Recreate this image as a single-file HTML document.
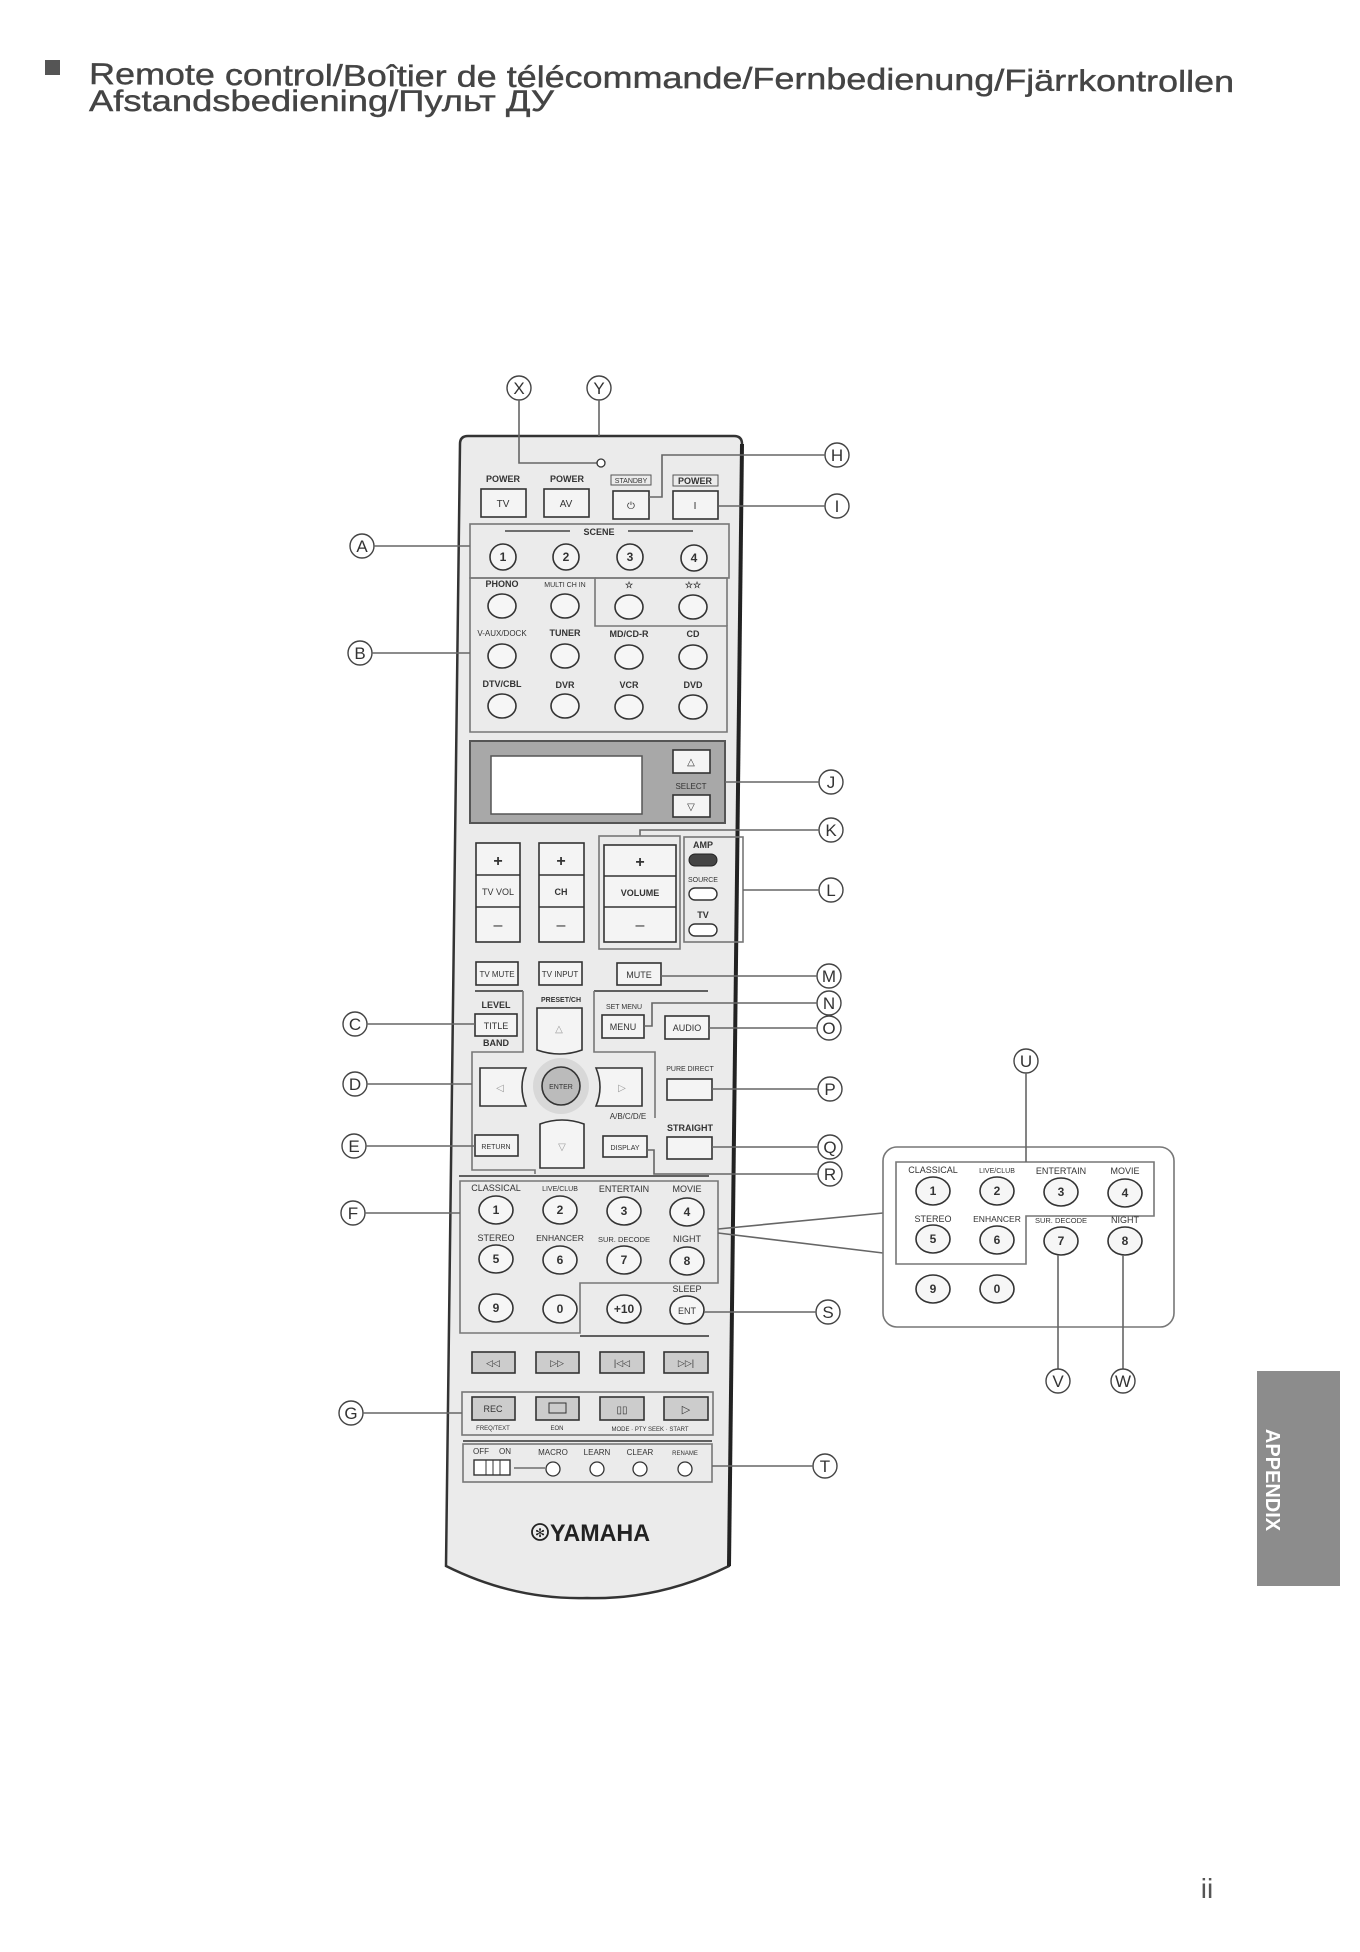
<!DOCTYPE html>
<html><head><meta charset="utf-8"><style>
html,body{margin:0;padding:0;background:#fff}
svg{display:block}
text{font-family:"Liberation Sans",Arial,sans-serif;fill:#333}
.l{stroke:#666;stroke-width:1.6;fill:none}
.c{fill:#fff;stroke:#444;stroke-width:1.4}
.b{fill:#f4f4f4;stroke:#333;stroke-width:1.6}
.bx{fill:none;stroke:#777;stroke-width:1.6}
.lt{font-size:17px;text-anchor:middle}
.s{font-size:9px;text-anchor:middle;font-weight:bold}
.t{font-size:10px;text-anchor:middle}
.n{font-size:12px;text-anchor:middle;font-weight:bold}
</style></head><body>
<svg width="1360" height="1952" viewBox="0 0 1360 1952" xmlns="http://www.w3.org/2000/svg">
<!-- title -->
<rect x="45" y="60" width="15" height="15" fill="#555"/>
<g transform="rotate(0.4 89 84)">
<text x="89" y="84" font-size="30" textLength="1145" lengthAdjust="spacingAndGlyphs" style="fill:#444;stroke:#444;stroke-width:0.4">Remote control/Boîtier de télécommande/Fernbedienung/Fjärrkontrollen</text>
</g>
<text x="89" y="111" font-size="30" textLength="465" lengthAdjust="spacingAndGlyphs" style="fill:#444;stroke:#444;stroke-width:0.4">Afstandsbediening/Пульт ДУ</text>

<!-- remote body -->
<path d="M468,436 L734,436 Q742,436 742,444 L729,1566 Q660,1600 587,1598 Q514,1600 446,1566 L460,444 Q460,436 468,436 Z" fill="#ebebeb" stroke="#333" stroke-width="2.5"/>
<path d="M742,444 L729,1566" stroke="#222" stroke-width="4" fill="none"/>

<!-- X Y -->
<circle class="c" cx="519" cy="388" r="12"/><text class="lt" x="519" y="394">X</text>
<circle class="c" cx="599" cy="388" r="12"/><text class="lt" x="599" y="394">Y</text>
<path class="l" d="M519,400 V463 H597"/><circle cx="601" cy="463" r="4" fill="#fff" stroke="#333" stroke-width="1.3"/>
<path class="l" d="M599,400 V436"/>

<!-- power row -->
<text class="s" x="503" y="482">POWER</text><text class="s" x="567" y="482">POWER</text>
<rect x="611" y="475" width="40" height="10" fill="none" stroke="#555"/><text x="631" y="483" font-size="7" text-anchor="middle">STANDBY</text>
<rect x="673" y="475" width="45" height="11" fill="none" stroke="#555"/><text class="s" x="695" y="484">POWER</text>
<rect class="b" x="481" y="489" width="45" height="28"/><text class="t" x="503" y="507">TV</text>
<rect class="b" x="544" y="489" width="45" height="28"/><text class="t" x="566" y="507">AV</text>
<rect class="b" x="613" y="491" width="36" height="28"/><text class="t" x="631" y="509">⏻</text>
<rect class="b" x="673" y="491" width="45" height="28"/><text class="t" x="695" y="509">I</text>
<circle class="c" cx="837" cy="455" r="12"/><text class="lt" x="837" y="461">H</text>
<path class="l" d="M825,455 H662 V497 H649"/>
<circle class="c" cx="837" cy="506" r="12"/><text class="lt" x="837" y="512">I</text>
<path class="l" d="M825,506 H719"/>

<!-- scene -->
<rect class="bx" x="470" y="524" width="259" height="54"/>
<path d="M505,531 H570 M628,531 H693" stroke="#444" stroke-width="1.5"/>
<text class="s" x="599" y="535">SCENE</text>
<circle class="b" cx="503" cy="557" r="13"/><text class="n" x="503" y="561">1</text>
<circle class="b" cx="566" cy="557" r="13"/><text class="n" x="566" y="561">2</text>
<circle class="b" cx="630" cy="557" r="13"/><text class="n" x="630" y="561">3</text>
<circle class="b" cx="694" cy="558" r="13"/><text class="n" x="694" y="562">4</text>
<circle class="c" cx="362" cy="546" r="12"/><text class="lt" x="362" y="552">A</text>
<path class="l" d="M374,546 H470"/>

<!-- sources -->
<path class="bx" d="M470,578 H595 V626 H727 V732 H470 Z"/>
<path class="bx" d="M595,578 H727 V626"/>
<circle class="c" cx="360" cy="653" r="12"/><text class="lt" x="360" y="659">B</text>
<path class="l" d="M372,653 H470"/>
<text class="s" x="502" y="587">PHONO</text><text x="565" y="587" font-size="7" text-anchor="middle">MULTI CH IN</text><text class="s" x="629" y="588">☆</text><text class="s" x="693" y="588">☆☆</text>
<text x="502" y="636" font-size="8" text-anchor="middle">V-AUX/DOCK</text><text class="s" x="565" y="636">TUNER</text><text class="s" x="629" y="637">MD/CD-R</text><text class="s" x="693" y="637">CD</text>
<text class="s" x="502" y="687">DTV/CBL</text><text class="s" x="565" y="688">DVR</text><text class="s" x="629" y="688">VCR</text><text class="s" x="693" y="688">DVD</text>
<g fill="#f6f6f6" stroke="#333" stroke-width="1.6">
<ellipse cx="502" cy="606" rx="14" ry="12"/><ellipse cx="565" cy="606" rx="14" ry="12"/><ellipse cx="629" cy="607" rx="14" ry="12"/><ellipse cx="693" cy="607" rx="14" ry="12"/>
<ellipse cx="502" cy="656" rx="14" ry="12"/><ellipse cx="565" cy="656" rx="14" ry="12"/><ellipse cx="629" cy="657" rx="14" ry="12"/><ellipse cx="693" cy="657" rx="14" ry="12"/>
<ellipse cx="502" cy="706" rx="14" ry="12"/><ellipse cx="565" cy="706" rx="14" ry="12"/><ellipse cx="629" cy="707" rx="14" ry="12"/><ellipse cx="693" cy="707" rx="14" ry="12"/>
</g>

<!-- display -->
<rect x="470" y="741" width="255" height="82" fill="#a8a8a8" stroke="#555" stroke-width="2"/>
<rect x="491" y="756" width="151" height="58" fill="#fff" stroke="#555" stroke-width="1.5"/>
<rect class="b" x="673" y="750" width="37" height="23"/><text class="t" x="691" y="765">△</text>
<text x="691" y="789" font-size="8" text-anchor="middle">SELECT</text>
<rect class="b" x="673" y="795" width="37" height="22"/><text class="t" x="691" y="810">▽</text>
<circle class="c" cx="831" cy="782" r="12"/><text class="lt" x="831" y="788">J</text>
<path class="l" d="M819,782 H725"/>

<!-- volume area -->
<circle class="c" cx="831" cy="830" r="12"/><text class="lt" x="831" y="836">K</text>
<path class="l" d="M819,830 H640 V836"/>
<rect class="bx" x="599" y="836" width="81" height="113"/>
<rect class="b" x="604" y="845" width="72" height="97"/>
<path d="M604,876 H676 M604,907 H676" stroke="#333" stroke-width="1.4"/>
<text x="640" y="867" font-size="16" text-anchor="middle" font-weight="bold">+</text>
<text class="s" x="640" y="896" font-size="11">VOLUME</text>
<text x="640" y="930" font-size="16" text-anchor="middle">–</text>
<rect class="b" x="476" y="843" width="44" height="99"/>
<path d="M476,875 H520 M476,907 H520" stroke="#333" stroke-width="1.4"/>
<text x="498" y="866" font-size="16" text-anchor="middle" font-weight="bold">+</text><text x="498" y="895" font-size="9" text-anchor="middle">TV VOL</text><text x="498" y="930" font-size="16" text-anchor="middle">–</text>
<rect class="b" x="539" y="843" width="45" height="99"/>
<path d="M539,875 H584 M539,907 H584" stroke="#333" stroke-width="1.4"/>
<text x="561" y="866" font-size="16" text-anchor="middle" font-weight="bold">+</text><text class="s" x="561" y="895">CH</text><text x="561" y="930" font-size="16" text-anchor="middle">–</text>
<rect class="bx" x="684" y="837" width="59" height="105"/>
<text class="s" x="703" y="848">AMP</text><rect x="689" y="854" width="28" height="12" rx="6" fill="#444" stroke="#222"/>
<text x="703" y="882" font-size="7" text-anchor="middle">SOURCE</text><rect x="689" y="888" width="28" height="12" rx="6" fill="#fff" stroke="#333" stroke-width="1.4"/>
<text class="s" x="703" y="918">TV</text><rect x="689" y="924" width="28" height="12" rx="6" fill="#fff" stroke="#333" stroke-width="1.4"/>
<circle class="c" cx="831" cy="890" r="12"/><text class="lt" x="831" y="896">L</text>
<path class="l" d="M819,890 H743"/>

<!-- mute row -->
<rect class="b" x="476" y="962" width="42" height="23"/><text x="497" y="977" font-size="8" text-anchor="middle">TV MUTE</text>
<rect class="b" x="539" y="962" width="43" height="23"/><text x="560" y="977" font-size="8" text-anchor="middle">TV INPUT</text>
<rect class="b" x="617" y="963" width="44" height="22"/><text x="639" y="978" font-size="9" text-anchor="middle">MUTE</text>
<circle class="c" cx="829" cy="976" r="12"/><text class="lt" x="829" y="982">M</text>
<path class="l" d="M817,976 H661"/>
<path d="M475,991 H523 M594,991 H708" stroke="#333" stroke-width="1.5"/>

<!-- nav -->
<text class="s" x="496" y="1008">LEVEL</text>
<rect class="b" x="475" y="1014" width="42" height="22"/><text x="496" y="1029" font-size="9" text-anchor="middle">TITLE</text>
<text class="s" x="496" y="1046">BAND</text>
<circle class="c" cx="355" cy="1024" r="12"/><text class="lt" x="355" y="1030">C</text>
<path class="l" d="M367,1024 H475"/>
<text x="561" y="1002" font-size="7" text-anchor="middle" font-weight="bold">PRESET/CH</text>
<path class="bx" d="M523,991 V1052 H472 V1170 H535 V1174 M594,991 V1052 H655 V1118"/>
<path class="b" d="M537,1008 H582 V1050 Q560,1058 537,1050 Z"/><text class="t" x="559" y="1032" style="fill:#999">△</text>
<text x="624" y="1009" font-size="7" text-anchor="middle">SET MENU</text>
<rect class="b" x="602" y="1015" width="42" height="23"/><text x="623" y="1030" font-size="9" text-anchor="middle">MENU</text>
<rect class="b" x="665" y="1016" width="44" height="23"/><text x="687" y="1031" font-size="9" text-anchor="middle">AUDIO</text>
<circle class="c" cx="829" cy="1003" r="12"/><text class="lt" x="829" y="1009">N</text>
<path class="l" d="M817,1003 H652 V1026 H644"/>
<circle class="c" cx="829" cy="1028" r="12"/><text class="lt" x="829" y="1034">O</text>
<path class="l" d="M817,1028 H709"/>
<path class="b" d="M480,1068 H526 Q518,1087 526,1106 H480 Z"/><text class="t" x="500" y="1091" style="fill:#999">◁</text>
<path class="b" d="M596,1068 H642 V1106 H596 Q604,1087 596,1068 Z"/><text class="t" x="622" y="1091" style="fill:#999">▷</text>
<circle cx="561" cy="1086" r="28" fill="#d8d8d8" stroke="none"/>
<circle cx="561" cy="1086" r="19" fill="#bbb" stroke="#333" stroke-width="1.6"/><text x="561" y="1089" font-size="7" text-anchor="middle">ENTER</text>
<path class="b" d="M540,1124 Q562,1116 584,1124 V1168 H540 Z"/><text class="t" x="562" y="1150" style="fill:#999">▽</text>
<text x="628" y="1119" font-size="8" text-anchor="middle">A/B/C/D/E</text>
<circle class="c" cx="355" cy="1084" r="12"/><text class="lt" x="355" y="1090">D</text>
<path class="l" d="M367,1084 H472"/>
<text x="690" y="1071" font-size="7" text-anchor="middle">PURE DIRECT</text>
<rect class="b" x="667" y="1079" width="45" height="21"/>
<circle class="c" cx="830" cy="1089" r="12"/><text class="lt" x="830" y="1095">P</text>
<path class="l" d="M818,1089 H712"/>
<text class="s" x="690" y="1131">STRAIGHT</text>
<rect class="b" x="667" y="1137" width="45" height="22"/>
<circle class="c" cx="830" cy="1147" r="12"/><text class="lt" x="830" y="1153">Q</text>
<path class="l" d="M818,1147 H712"/>
<rect class="b" x="475" y="1135" width="43" height="21"/><text x="496" y="1149" font-size="7" text-anchor="middle">RETURN</text>
<circle class="c" cx="354" cy="1146" r="12"/><text class="lt" x="354" y="1152">E</text>
<path class="l" d="M366,1146 H475"/>
<rect class="b" x="603" y="1136" width="44" height="21"/><text x="625" y="1150" font-size="7" text-anchor="middle">DISPLAY</text>
<circle class="c" cx="830" cy="1174" r="12"/><text class="lt" x="830" y="1180">R</text>
<path class="l" d="M818,1174 H654 V1150 H647"/>
<path d="M459,1176 H709" stroke="#333" stroke-width="1.5"/>

<!-- F numeric -->
<path class="bx" d="M460,1181 H718 V1283 H580 V1333 H460 Z"/>
<circle class="c" cx="353" cy="1213" r="12"/><text class="lt" x="353" y="1219">F</text>
<path class="l" d="M365,1213 H460"/>
<text x="496" y="1191" font-size="9" text-anchor="middle">CLASSICAL</text><text x="560" y="1191" font-size="7" text-anchor="middle">LIVE/CLUB</text><text x="624" y="1192" font-size="9" text-anchor="middle">ENTERTAIN</text><text x="687" y="1192" font-size="9" text-anchor="middle">MOVIE</text>
<text x="496" y="1241" font-size="9" text-anchor="middle">STEREO</text><text x="560" y="1241" font-size="8.5" text-anchor="middle">ENHANCER</text><text x="624" y="1242" font-size="7.5" text-anchor="middle">SUR. DECODE</text><text x="687" y="1242" font-size="9" text-anchor="middle">NIGHT</text>
<text x="687" y="1292" font-size="9" text-anchor="middle">SLEEP</text>
<g fill="#f6f6f6" stroke="#333" stroke-width="1.6">
<ellipse cx="496" cy="1210" rx="17" ry="14"/><ellipse cx="560" cy="1210" rx="17" ry="14"/><ellipse cx="624" cy="1211" rx="17" ry="14"/><ellipse cx="687" cy="1212" rx="17" ry="14"/>
<ellipse cx="496" cy="1259" rx="17" ry="14"/><ellipse cx="560" cy="1260" rx="17" ry="14"/><ellipse cx="624" cy="1260" rx="17" ry="14"/><ellipse cx="687" cy="1261" rx="17" ry="14"/>
<ellipse cx="496" cy="1308" rx="17" ry="14"/><ellipse cx="560" cy="1309" rx="17" ry="14"/><ellipse cx="624" cy="1309" rx="17" ry="14"/><ellipse cx="687" cy="1310" rx="17" ry="14"/>
</g>
<text class="n" x="496" y="1214">1</text><text class="n" x="560" y="1214">2</text><text class="n" x="624" y="1215">3</text><text class="n" x="687" y="1216">4</text>
<text class="n" x="496" y="1263">5</text><text class="n" x="560" y="1264">6</text><text class="n" x="624" y="1264">7</text><text class="n" x="687" y="1265">8</text>
<text class="n" x="496" y="1312">9</text><text class="n" x="560" y="1313">0</text><text class="n" x="624" y="1313">+10</text><text x="687" y="1314" font-size="9" text-anchor="middle">ENT</text>
<circle class="c" cx="828" cy="1312" r="12"/><text class="lt" x="828" y="1318">S</text>
<path class="l" d="M816,1312 H704"/>
<path d="M580,1336 H709" stroke="#333" stroke-width="1.5"/>

<!-- zoom callout -->
<path class="l" d="M718,1229 L883,1213 M718,1233 L883,1253"/>
<rect x="883" y="1147" width="291" height="180" rx="14" fill="#fff" stroke="#777" stroke-width="1.6"/>
<path class="bx" d="M896,1162 H1154 V1216 H1026 V1264 H896 Z"/>
<circle class="c" cx="1026" cy="1061" r="12"/><text class="lt" x="1026" y="1067">U</text>
<path class="l" d="M1026,1073 V1162"/>
<text x="933" y="1173" font-size="9" text-anchor="middle">CLASSICAL</text><text x="997" y="1173" font-size="7" text-anchor="middle">LIVE/CLUB</text><text x="1061" y="1174" font-size="9" text-anchor="middle">ENTERTAIN</text><text x="1125" y="1174" font-size="9" text-anchor="middle">MOVIE</text>
<text x="933" y="1222" font-size="9" text-anchor="middle">STEREO</text><text x="997" y="1222" font-size="8.5" text-anchor="middle">ENHANCER</text><text x="1061" y="1223" font-size="7.5" text-anchor="middle">SUR. DECODE</text><text x="1125" y="1223" font-size="9" text-anchor="middle">NIGHT</text>
<g fill="#f6f6f6" stroke="#333" stroke-width="1.6">
<ellipse cx="933" cy="1191" rx="17" ry="14"/><ellipse cx="997" cy="1191" rx="17" ry="14"/><ellipse cx="1061" cy="1192" rx="17" ry="14"/><ellipse cx="1125" cy="1193" rx="17" ry="14"/>
<ellipse cx="933" cy="1239" rx="17" ry="14"/><ellipse cx="997" cy="1240" rx="17" ry="14"/><ellipse cx="1061" cy="1241" rx="17" ry="14"/><ellipse cx="1125" cy="1241" rx="17" ry="14"/>
<ellipse cx="933" cy="1289" rx="17" ry="14"/><ellipse cx="997" cy="1289" rx="17" ry="14"/>
</g>
<text class="n" x="933" y="1195">1</text><text class="n" x="997" y="1195">2</text><text class="n" x="1061" y="1196">3</text><text class="n" x="1125" y="1197">4</text>
<text class="n" x="933" y="1243">5</text><text class="n" x="997" y="1244">6</text><text class="n" x="1061" y="1245">7</text><text class="n" x="1125" y="1245">8</text>
<text class="n" x="933" y="1293">9</text><text class="n" x="997" y="1293">0</text>
<path class="l" d="M1058,1255 V1369 M1123,1255 V1369"/>
<circle class="c" cx="1058" cy="1381" r="12"/><text class="lt" x="1058" y="1387">V</text>
<circle class="c" cx="1123" cy="1381" r="12"/><text class="lt" x="1123" y="1387">W</text>

<!-- transport -->
<g fill="#ccc" stroke="#333" stroke-width="1.6">
<rect x="472" y="1352" width="43" height="21"/><rect x="536" y="1352" width="43" height="21"/><rect x="600" y="1352" width="44" height="21"/><rect x="664" y="1352" width="44" height="21"/>
</g>
<text x="493" y="1366" font-size="9" text-anchor="middle">◁◁</text><text x="557" y="1366" font-size="9" text-anchor="middle">▷▷</text><text x="622" y="1366" font-size="9" text-anchor="middle">|◁◁</text><text x="686" y="1366" font-size="9" text-anchor="middle">▷▷|</text>
<rect class="bx" x="462" y="1392" width="251" height="43"/>
<g fill="#ccc" stroke="#333" stroke-width="1.6">
<rect x="472" y="1397" width="43" height="23"/><rect x="536" y="1397" width="43" height="23"/><rect x="600" y="1397" width="44" height="23"/><rect x="664" y="1397" width="44" height="23"/>
</g>
<text x="493" y="1412" font-size="9" text-anchor="middle">REC</text>
<rect x="549" y="1403" width="17" height="10" fill="none" stroke="#333"/>
<text x="622" y="1413" font-size="10" text-anchor="middle">▯▯</text>
<text x="686" y="1413" font-size="11" text-anchor="middle">▷</text>
<text x="493" y="1430" font-size="6" text-anchor="middle">FREQ/TEXT</text><text x="557" y="1430" font-size="6" text-anchor="middle">EON</text><text x="650" y="1431" font-size="6" text-anchor="middle">MODE · PTY SEEK · START</text>
<circle class="c" cx="351" cy="1413" r="12"/><text class="lt" x="351" y="1419">G</text>
<path class="l" d="M363,1413 H462"/>
<path d="M463,1441 H712" stroke="#333" stroke-width="1.5"/>
<rect class="bx" x="463" y="1444" width="249" height="38"/>
<text x="481" y="1454" font-size="8" text-anchor="middle">OFF</text><text x="505" y="1454" font-size="8" text-anchor="middle">ON</text>
<rect x="474" y="1460" width="36" height="15" fill="#fff" stroke="#333" stroke-width="1.4"/><path d="M486,1460 V1475 M493,1460 V1475 M500,1460 V1475" stroke="#333"/>
<path d="M514,1468 H545" stroke="#555" stroke-width="1.3"/>
<text x="553" y="1455" font-size="8" text-anchor="middle">MACRO</text><text x="597" y="1455" font-size="8" text-anchor="middle">LEARN</text><text x="640" y="1455" font-size="8" text-anchor="middle">CLEAR</text><text x="685" y="1455" font-size="6" text-anchor="middle">RENAME</text>
<g fill="#fff" stroke="#333" stroke-width="1.3"><circle cx="553" cy="1469" r="7"/><circle cx="597" cy="1469" r="7"/><circle cx="640" cy="1469" r="7"/><circle cx="685" cy="1469" r="7"/></g>
<circle class="c" cx="825" cy="1466" r="12"/><text class="lt" x="825" y="1472">T</text>
<path class="l" d="M813,1466 H712"/>

<text x="600" y="1541" font-size="24" font-weight="bold" text-anchor="middle" textLength="100" lengthAdjust="spacingAndGlyphs" style="fill:#222">YAMAHA</text>
<circle cx="540" cy="1532" r="8" fill="none" stroke="#222" stroke-width="1.8"/>
<text x="540" y="1537" font-size="12" text-anchor="middle" style="fill:#222">✻</text>

<!-- appendix tab -->
<rect x="1257" y="1371" width="83" height="215" fill="#8c8c8c"/>
<text transform="translate(1266,1480) rotate(90)" font-size="20" font-weight="bold" text-anchor="middle" style="fill:#fff">APPENDIX</text>
<text x="1207" y="1898" font-size="28" text-anchor="middle" style="fill:#555">ii</text>
</svg>
</body></html>
